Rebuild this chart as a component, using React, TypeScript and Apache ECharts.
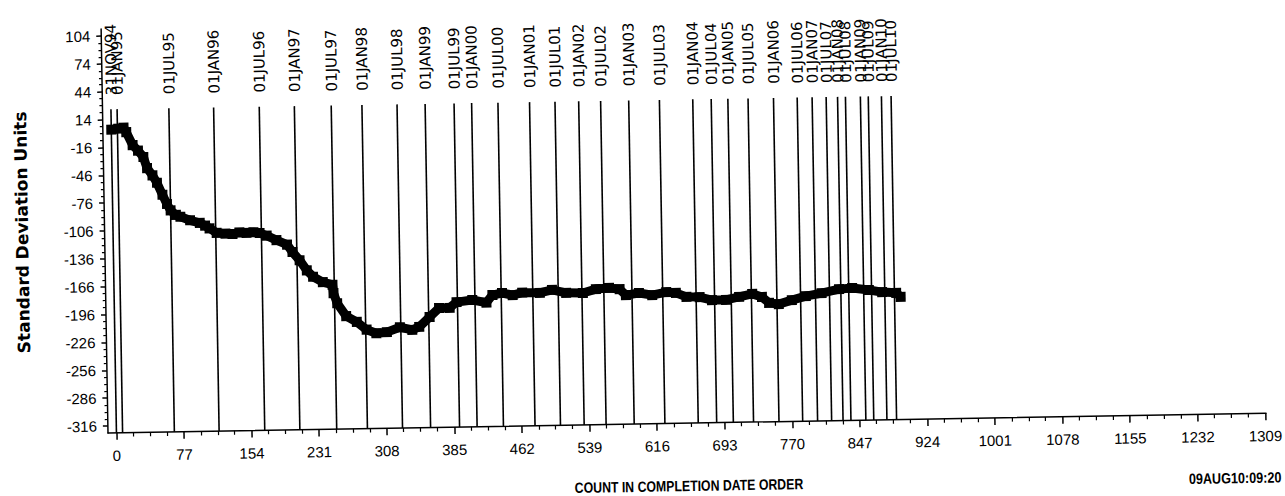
import React, { useEffect, useRef } from "react";
import * as echarts from "echarts";

// ---- data ----
const COUNT = [0, 8, 14, 17, 24, 30, 36, 40, 46, 51, 57, 62, 66, 72, 77, 88, 99, 105, 110, 118, 128, 136, 144, 152, 160, 167, 175, 186, 198, 204, 212, 220, 227, 238, 249, 250, 254, 264, 276, 287, 298, 310, 325, 339, 347, 359, 370, 382, 390, 408, 424, 431, 442, 454, 465, 485, 499, 515, 534, 549, 564, 576, 583, 598, 613, 629, 640, 652, 667, 681, 697, 712, 727, 738, 746, 757, 772, 788, 806, 826, 841, 860, 875, 891, 896];
const SDU = [3, 4, 5, 0, -14, -20, -27, -39, -47, -55, -68, -78, -85, -90, -92, -96, -99, -102, -105, -110, -111, -111.5, -110, -110.5, -110, -111, -114, -119, -124, -132, -141, -152, -159, -165, -168, -177, -188, -202, -208.5, -217, -221, -220, -215, -218, -215, -204.5, -195, -195, -189, -187, -190, -182, -180, -182.5, -180, -180.5, -177.5, -181, -181.5, -177.5, -176.5, -178, -184.5, -182.5, -185, -182, -183, -187.5, -188, -191.5, -191.5, -188.5, -185.5, -189, -195.5, -197, -193, -189, -186, -182, -181, -183.5, -186, -187, -191.5];

const DATE_LABELS = ["31NOV94", "01JAN95", "01JUL95", "01JAN96", "01JUL96", "01JAN97", "01JUL97", "01JAN98", "01JUL98", "01JAN99", "01JUL99", "01JAN00", "01JUL00", "01JAN01", "01JUL01", "01JAN02", "01JUL02", "01JAN03", "01JUL03", "01JAN04", "01JUL04", "01JAN05", "01JUL05", "01JAN06", "01JUL06", "01JAN07", "01JUL07", "01JAN08", "01JUL08", "01JAN09", "01JUL09", "01JAN10", "01JUL10"];
const DATE_COUNTS = [0, 7, 66, 117, 169, 209, 251, 286, 326, 358, 391, 411, 441, 477, 506, 533, 558, 590, 625, 663, 684, 703, 726, 755, 782, 799, 815, 828, 837, 854, 863, 878, 889];

const X_TICKS = [0, 77, 154, 231, 308, 385, 462, 539, 616, 693, 770, 847, 924, 1001, 1078, 1155, 1232, 1309];
const Y_TICKS = [-316, -286, -256, -226, -196, -166, -136, -106, -76, -46, -16, 14, 44, 74, 104];

const X_MIN = -9.625;
const X_MAX = 1310;
const Y_MIN = -323.5;
const Y_MAX = 111.5;
const LINE_TOP = 25;

const X_TITLE = "COUNT IN COMPLETION DATE ORDER";
const Y_TITLE = "Standard Deviation Units";
const STAMP = "09AUG10:09:20";

const SANS = "'Liberation Sans', Arial, sans-serif";

function minorOf(ticks: number[]): number[] {
  const out: number[] = [];
  for (let i = 0; i < ticks.length - 1; i++) {
    const a = ticks[i];
    const b = ticks[i + 1];
    for (let k = 1; k < 4; k++) out.push(a + ((b - a) * k) / 4);
  }
  return out;
}

export default function App() {
  const ref = useRef<HTMLDivElement>(null);

  useEffect(() => {
    if (!ref.current) return;
    const chart = echarts.init(ref.current, undefined, { renderer: "svg" });
    const xMinor = minorOf(X_TICKS);
    const yMinor = minorOf(Y_TICKS);
    const black = "#000";
    const plain = (v: number) => String(v);

    chart.setOption({
      animation: false,
      backgroundColor: "transparent",
      grid: { left: 108, top: 29, right: 17, bottom: 97, containLabel: false },
      xAxis: [
        {
          type: "value",
          min: X_MIN,
          max: X_MAX,
          position: "bottom",
          axisLine: { show: true, onZero: false, lineStyle: { color: black, width: 1.5 } },
          axisTick: { show: true, customValues: X_TICKS, length: 7, lineStyle: { color: black, width: 1.5 } },
          axisLabel: { customValues: X_TICKS, formatter: plain, margin: 15, color: black, fontFamily: SANS, fontSize: 15 },
          splitLine: { show: false },
        },
        {
          type: "value",
          min: X_MIN,
          max: X_MAX,
          position: "bottom",
          axisLine: { show: false, onZero: false },
          axisTick: { show: true, customValues: xMinor, length: 4, lineStyle: { color: black, width: 1.2 } },
          axisLabel: { show: false },
          splitLine: { show: false },
        },
      ],
      yAxis: [
        {
          type: "value",
          min: Y_MIN,
          max: Y_MAX,
          position: "left",
          axisLine: { show: true, onZero: false, lineStyle: { color: black, width: 1.5 } },
          axisTick: { show: true, customValues: Y_TICKS, length: 5, lineStyle: { color: black, width: 1.5 } },
          axisLabel: { customValues: Y_TICKS, formatter: plain, margin: 11, color: black, fontFamily: SANS, fontSize: 15 },
          splitLine: { show: false },
          name: Y_TITLE,
          nameLocation: "middle",
          nameGap: 74,
          nameTextStyle: { color: black, fontFamily: "'DejaVu Sans', sans-serif", fontWeight: "bold", fontSize: 17 },
        },
        {
          type: "value",
          min: Y_MIN,
          max: Y_MAX,
          position: "left",
          axisLine: { show: false, onZero: false },
          axisTick: { show: true, customValues: yMinor, length: 3, lineStyle: { color: black, width: 1.2 } },
          axisLabel: { show: false },
          splitLine: { show: false },
        },
      ],
      graphic: [
        {
          type: "text",
          x: 688,
          y: 496,
          scaleX: 0.82,
          style: {
            text: X_TITLE,
            fill: black,
            font: "bold 15px " + SANS,
            align: "center",
            verticalAlign: "middle",
          },
        },
        {
          type: "text",
          x: 1188,
          y: 497,
          scaleX: 0.84,
          style: {
            text: STAMP,
            fill: black,
            font: "bold 15px " + SANS,
            verticalAlign: "middle",
            align: "left",
          },
        },
      ],
      series: [
        {
          type: "custom",
          xAxisIndex: 0,
          yAxisIndex: 0,
          clip: false,
          z: 2,
          data: DATE_COUNTS.map((c) => [c, LINE_TOP]),
          renderItem: (params: any, api: any) => {
            const x = api.value(0);
            const top = api.coord([x, LINE_TOP]);
            const bot = api.coord([x, Y_MIN]);
            return {
              type: "group",
              children: [
                {
                  type: "line",
                  shape: { x1: bot[0], y1: bot[1], x2: top[0], y2: top[1] },
                  style: { stroke: black, lineWidth: 1.6 },
                },
                {
                  type: "text",
                  x: top[0] + 1,
                  y: top[1] - 14,
                  rotation: Math.PI / 2,
                  style: {
                    text: DATE_LABELS[params.dataIndex],
                    fill: black,
                    font: "15px 'DejaVu Sans', sans-serif",
                    align: "left",
                    verticalAlign: "middle",
                  },
                },
              ],
            };
          },
        },
        {
          type: "line",
          xAxisIndex: 0,
          yAxisIndex: 0,
          z: 3,
          data: COUNT.map((c, i) => [c, SDU[i]]),
          symbol: "rect",
          symbolSize: 10,
          showAllSymbol: true,
          itemStyle: { color: black },
          lineStyle: { color: black, width: 9 },
        },
      ],
    });

    return () => chart.dispose();
  }, []);

  return (
    <div
      style={{
        position: "absolute",
        left: 0,
        top: 0,
        width: 1285,
        height: 496,
        overflow: "hidden",
        background: "#fff",
      }}
    >
      <div
        ref={ref}
        style={{
          position: "absolute",
          left: 0,
          top: 0,
          width: 1285,
          height: 530,
          transform: "rotate(-0.974deg)",
          transformOrigin: "108px 433px",
        }}
      />
    </div>
  );
}
